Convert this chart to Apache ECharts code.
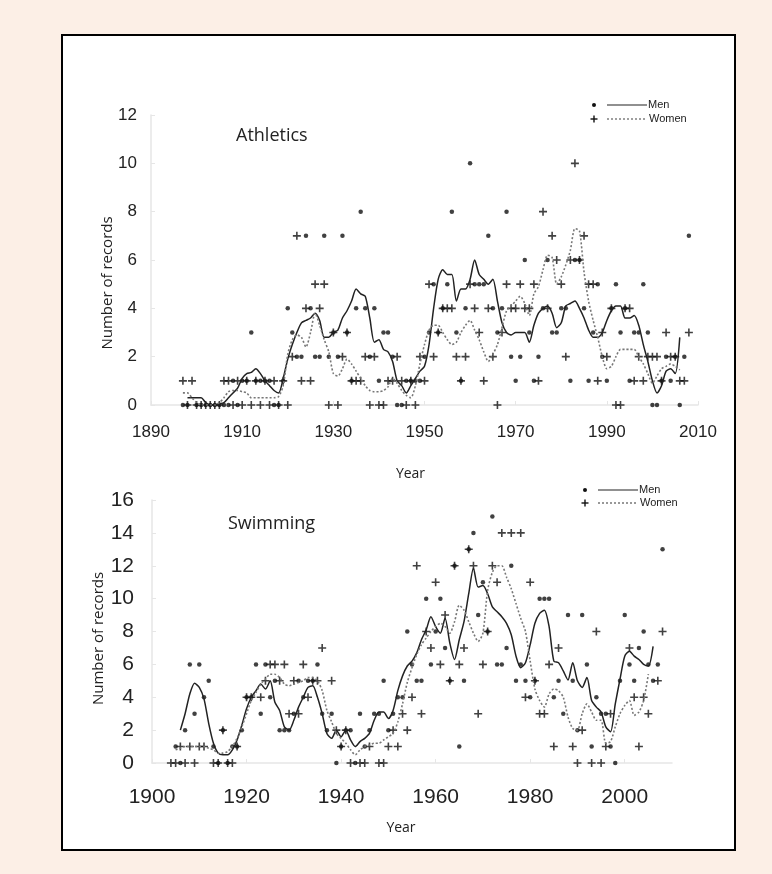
<!DOCTYPE html>
<html lang="en">
<head>
  <meta charset="UTF-8">
  <title>World records per year</title>
  <script src="https://cdn.jsdelivr.net/npm/echarts@6/dist/echarts.min.js"></script>
  <style>
    html, body { margin: 0; padding: 0; background: #fcefe6; }
    #box { position: absolute; left: 61px; top: 34px; width: 671px; height: 813px; background: #fff; border: 2px solid #000; }
    #chart { position: absolute; left: 0; top: 0; width: 772px; height: 874px; }
  </style>
</head>
<body>
  <div id="box"></div>
  <div id="chart"></div>
<script>
  // ---- Athletics: records per year (dots = men, plus = women) ----
  const athMen = [[1897,0],[1898,0],[1900,0],[1901,0],[1902,0],[1903,0],[1904,0],[1905,0],[1906,0],[1907,0],[1908,1],[1909,0],[1910,1],[1911,1],[1912,3],[1913,1],[1914,1],[1915,1],[1916,1],[1917,0],[1918,0],[1919,1],[1920,4],[1921,3],[1922,2],[1923,2],[1924,7],[1925,4],[1926,2],[1927,2],[1928,7],[1929,2],[1930,3],[1931,2],[1932,7],[1933,3],[1934,1],[1935,4],[1936,8],[1937,4],[1938,2],[1939,4],[1940,1],[1941,3],[1942,3],[1943,2],[1944,0],[1945,0],[1946,1],[1947,1],[1948,1],[1949,1],[1950,2],[1951,3],[1952,5],[1953,3],[1954,4],[1955,5],[1956,8],[1957,3],[1958,1],[1959,4],[1960,10],[1961,5],[1962,5],[1963,5],[1964,7],[1965,4],[1966,3],[1967,4],[1968,8],[1969,2],[1970,1],[1971,2],[1972,6],[1973,3],[1974,1],[1975,2],[1976,4],[1977,6],[1978,3],[1979,3],[1980,4],[1981,4],[1982,1],[1983,6],[1984,6],[1985,4],[1986,1],[1987,3],[1988,5],[1989,2],[1990,1],[1991,4],[1992,5],[1993,3],[1994,4],[1995,1],[1996,3],[1997,3],[1998,5],[1999,3],[2000,0],[2001,0],[2002,1],[2003,2],[2004,1],[2005,2],[2006,0],[2007,2],[2008,7]];
  const athWomen = [[1897,1],[1898,0],[1899,1],[1900,0],[1901,0],[1902,0],[1903,0],[1904,0],[1905,0],[1906,1],[1907,1],[1908,0],[1909,1],[1910,0],[1911,1],[1912,0],[1913,1],[1914,0],[1915,1],[1916,0],[1917,1],[1918,0],[1919,1],[1920,0],[1921,2],[1922,7],[1923,1],[1924,4],[1925,1],[1926,5],[1927,4],[1928,5],[1929,0],[1930,3],[1931,0],[1932,2],[1933,3],[1934,1],[1935,1],[1936,1],[1937,2],[1938,0],[1939,2],[1940,0],[1941,0],[1942,1],[1943,1],[1944,2],[1945,1],[1946,0],[1947,1],[1948,0],[1949,2],[1950,1],[1951,5],[1952,2],[1953,3],[1954,4],[1955,4],[1956,4],[1957,2],[1958,1],[1959,2],[1960,5],[1961,4],[1962,3],[1963,1],[1964,4],[1965,2],[1966,0],[1967,3],[1968,5],[1969,4],[1970,4],[1971,5],[1972,4],[1973,4],[1974,5],[1975,1],[1976,8],[1977,4],[1978,7],[1979,6],[1980,5],[1981,2],[1982,6],[1983,10],[1984,6],[1985,7],[1986,5],[1987,5],[1988,1],[1989,3],[1990,2],[1991,4],[1992,0],[1993,0],[1994,4],[1995,4],[1996,1],[1997,2],[1998,1],[1999,2],[2000,2],[2001,2],[2002,1],[2003,3],[2004,2],[2005,2],[2006,1],[2007,1],[2008,3]];
  // smoothed trends
  const athMenTrend = [[1898,0.3],[1899,0.3],[1900,0.3],[1901,0.3],[1902,0.1],[1903,0],[1904,0],[1905,0.05],[1906,0.1],[1907,0.3],[1908,0.5],[1909,0.7],[1910,1.1],[1911,1.3],[1912,1.35],[1913,1.5],[1914,1.3],[1915,1.0],[1916,0.8],[1917,0.6],[1918,0.5],[1919,1.1],[1920,1.9],[1921,2.5],[1922,3.0],[1923,3.4],[1924,3.5],[1925,3.6],[1926,3.8],[1927,3.5],[1928,2.8],[1929,2.8],[1930,3.0],[1931,3.1],[1932,3.6],[1933,3.9],[1934,4.3],[1935,4.8],[1936,4.6],[1937,4.5],[1938,3.6],[1939,2.6],[1940,2.7],[1941,2.3],[1942,2.2],[1943,1.8],[1944,1.0],[1945,0.8],[1946,0.5],[1947,0.8],[1948,1.1],[1949,1.4],[1950,1.6],[1951,2.5],[1952,4.0],[1953,5.2],[1954,5.6],[1955,5.4],[1956,5.4],[1957,4.3],[1958,4.8],[1959,4.8],[1960,5.2],[1961,6.0],[1962,5.4],[1963,5.2],[1964,5.0],[1965,5.2],[1966,4.3],[1967,3.4],[1968,3.0],[1969,2.9],[1970,3.0],[1971,3.0],[1972,3.0],[1973,2.6],[1974,3.3],[1975,3.8],[1976,4.0],[1977,4.1],[1978,3.8],[1979,3.2],[1980,3.4],[1981,4.1],[1982,4.2],[1983,4.3],[1984,4.0],[1985,3.6],[1986,3.1],[1987,2.8],[1988,2.8],[1989,3.0],[1990,3.5],[1991,3.9],[1992,4.1],[1993,4.1],[1994,3.6],[1995,3.6],[1996,3.7],[1997,3.3],[1998,2.5],[1999,1.8],[2000,1.0],[2001,0.5],[2002,0.8],[2003,1.4],[2004,1.5],[2005,1.3],[2006,2.8]];
  const athWomenTrend = [[1897,0.5],[1898,0.5],[1899,0.3],[1900,0.1],[1901,0],[1902,0],[1903,0],[1904,0],[1905,0.1],[1906,0.3],[1907,0.55],[1908,0.6],[1909,0.6],[1910,0.55],[1911,0.5],[1912,0.3],[1913,0.3],[1914,0.3],[1915,0.3],[1916,0.3],[1917,0.3],[1918,0.35],[1919,0.8],[1920,2.1],[1921,2.7],[1922,2.9],[1923,2.8],[1924,2.4],[1925,3.0],[1926,3.8],[1927,3.3],[1928,2.7],[1929,2.2],[1930,1.3],[1931,1.2],[1932,1.5],[1933,1.9],[1934,1.7],[1935,1.4],[1936,1.1],[1937,0.8],[1938,0.6],[1939,0.55],[1940,0.55],[1941,0.6],[1942,0.75],[1943,1.1],[1944,0.9],[1945,0.6],[1946,0.4],[1947,0.3],[1948,0.8],[1949,1.7],[1950,2.5],[1951,3.1],[1952,3.3],[1953,3.3],[1954,3.0],[1955,2.7],[1956,2.5],[1957,2.6],[1958,3.0],[1959,3.3],[1960,3.5],[1961,3.1],[1962,2.7],[1963,2.2],[1964,1.8],[1965,2.1],[1966,2.5],[1967,3.2],[1968,3.9],[1969,4.1],[1970,4.3],[1971,4.5],[1972,4.2],[1973,3.7],[1974,4.6],[1975,4.9],[1976,5.6],[1977,6.2],[1978,6.1],[1979,5.0],[1980,5.3],[1981,5.8],[1982,6.4],[1983,7.3],[1984,7.2],[1985,5.5],[1986,4.3],[1987,3.5],[1988,2.8],[1989,2.0],[1990,1.5],[1991,1.6],[1992,2.0],[1993,2.3],[1994,2.3],[1995,2.3],[1996,2.3],[1997,2.0],[1998,1.7],[1999,1.3],[2000,0.9],[2001,1.2],[2002,1.5],[2003,1.6],[2004,1.7],[2005,1.6],[2006,1.45]];

  // ---- Swimming ----
  const swimMen = [[1905,1],[1906,0],[1907,2],[1908,6],[1909,3],[1910,6],[1911,4],[1912,5],[1913,1],[1914,0],[1915,2],[1916,0],[1917,1],[1918,1],[1919,2],[1920,4],[1921,4],[1922,6],[1923,3],[1924,6],[1925,4],[1926,5],[1927,2],[1928,2],[1929,2],[1930,3],[1931,5],[1932,4],[1933,5],[1934,5],[1935,6],[1936,3],[1937,2],[1938,3],[1939,0],[1940,1],[1941,2],[1942,2],[1943,0],[1944,3],[1945,1],[1946,2],[1947,3],[1948,3],[1949,5],[1950,2],[1951,3],[1952,4],[1953,4],[1954,8],[1955,6],[1956,5],[1957,5],[1958,10],[1959,6],[1960,8],[1961,10],[1962,7],[1963,5],[1964,12],[1965,1],[1966,5],[1967,13],[1968,14],[1969,9],[1970,11],[1971,8],[1972,15],[1973,6],[1974,6],[1975,7],[1976,12],[1977,5],[1978,6],[1979,5],[1980,4],[1981,5],[1982,10],[1983,10],[1984,10],[1985,4],[1986,5],[1987,3],[1988,9],[1989,5],[1990,2],[1991,9],[1992,6],[1993,1],[1994,4],[1995,3],[1996,3],[1997,1],[1998,0],[1999,5],[2000,9],[2001,6],[2002,5],[2003,7],[2004,8],[2005,6],[2006,5],[2007,6],[2008,13]];
  const swimWomen = [[1904,0],[1905,0],[1906,1],[1907,0],[1908,1],[1909,0],[1910,1],[1911,1],[1913,0],[1914,0],[1915,2],[1916,0],[1917,0],[1918,1],[1920,4],[1921,4],[1923,4],[1924,5],[1925,6],[1926,6],[1927,5],[1928,6],[1929,3],[1930,5],[1931,3],[1932,6],[1933,4],[1934,5],[1935,5],[1936,7],[1938,5],[1939,2],[1940,1],[1941,2],[1942,0],[1944,0],[1945,0],[1946,1],[1948,0],[1949,0],[1950,1],[1951,2],[1952,1],[1953,3],[1954,2],[1955,4],[1956,12],[1957,3],[1958,8],[1959,7],[1960,11],[1961,6],[1962,9],[1963,5],[1964,12],[1965,6],[1966,7],[1967,13],[1968,12],[1969,3],[1970,6],[1971,8],[1972,12],[1973,11],[1974,14],[1976,14],[1978,14],[1979,4],[1980,11],[1981,5],[1982,3],[1983,3],[1984,6],[1985,1],[1986,7],[1989,1],[1990,0],[1991,2],[1993,0],[1994,8],[1995,0],[1996,1],[1997,3],[2001,7],[2002,4],[2003,1],[2004,4],[2005,3],[2007,5],[2008,8]];
  const swimMenTrend = [[1906,2.0],[1907,3.0],[1908,4.2],[1909,4.85],[1910,4.6],[1911,3.9],[1912,2.4],[1913,1.2],[1914,0.6],[1915,0.5],[1916,0.5],[1917,0.8],[1918,1.4],[1919,2.3],[1920,3.3],[1921,4.0],[1922,4.4],[1923,4.8],[1924,4.5],[1925,5.0],[1926,3.7],[1927,3.2],[1928,2.2],[1929,2.0],[1930,2.6],[1931,3.4],[1932,4.0],[1933,4.6],[1934,4.7],[1935,4.0],[1936,3.0],[1937,1.8],[1938,1.5],[1939,2.0],[1940,1.6],[1941,2.0],[1942,1.4],[1943,1.0],[1944,1.3],[1945,1.5],[1946,1.8],[1947,2.6],[1948,3.1],[1949,3.1],[1950,2.7],[1951,3.2],[1952,4.4],[1953,5.3],[1954,5.9],[1955,6.2],[1956,6.7],[1957,7.5],[1958,8.1],[1959,8.9],[1960,8.3],[1961,7.9],[1962,8.8],[1963,7.3],[1964,6.3],[1965,7.5],[1966,8.6],[1967,10.3],[1968,11.85],[1969,10.7],[1970,10.8],[1971,10.3],[1972,9.5],[1973,9.2],[1974,8.9],[1975,8.5],[1976,7.8],[1977,6.5],[1978,5.8],[1979,6.1],[1980,7.2],[1981,8.5],[1982,9.1],[1983,9.3],[1984,8.3],[1985,6.2],[1986,6.1],[1987,5.6],[1988,5.05],[1989,6.1],[1990,5.0],[1991,4.6],[1992,5.2],[1993,3.8],[1994,3.4],[1995,3.1],[1996,2.2],[1997,1.9],[1998,3.6],[1999,5.1],[2000,6.5],[2001,6.8],[2002,6.5],[2003,6.3],[2004,6.0],[2005,5.9],[2006,7.1]];
  const swimWomenTrend = [[1905,0.8],[1906,0.9],[1907,1.0],[1908,1.0],[1909,1.0],[1910,1.0],[1911,1.0],[1912,0.9],[1913,0.8],[1914,0.6],[1915,0.6],[1916,0.7],[1917,1.0],[1918,1.5],[1919,2.2],[1920,3.0],[1921,3.8],[1922,4.3],[1923,4.8],[1924,5.1],[1925,5.4],[1926,5.4],[1927,5.2],[1928,4.8],[1929,4.7],[1930,4.8],[1931,4.9],[1932,5.0],[1933,5.2],[1934,5.2],[1935,5.0],[1936,4.4],[1937,3.2],[1938,2.5],[1939,1.8],[1940,1.5],[1941,1.2],[1942,0.8],[1943,0.5],[1944,0.8],[1945,1.0],[1946,1.1],[1947,1.2],[1948,1.2],[1949,1.4],[1950,1.6],[1951,1.8],[1952,2.5],[1953,3.6],[1954,4.9],[1955,5.8],[1956,6.6],[1957,7.2],[1958,7.6],[1959,8.0],[1960,8.3],[1961,8.5],[1962,8.3],[1963,7.9],[1964,8.6],[1965,9.6],[1966,9.3],[1967,8.6],[1968,7.9],[1969,7.4],[1970,7.9],[1971,10.5],[1972,11.6],[1973,12.0],[1974,12.0],[1975,11.3],[1976,10.6],[1977,9.7],[1978,8.8],[1979,8.0],[1980,6.2],[1981,4.5],[1982,3.8],[1983,3.4],[1984,4.2],[1985,4.5],[1986,4.4],[1987,4.0],[1988,2.8],[1989,2.1],[1990,2.0],[1991,3.0],[1992,3.6],[1993,3.1],[1994,2.6],[1995,2.6],[1996,1.2],[1997,1.3],[1998,2.2],[1999,3.0],[2000,3.5],[2001,3.8],[2002,2.9],[2003,3.1],[2004,3.8],[2005,5.4]];

  const panelTitles = ['Athletics', 'Swimming'];
  const legendNames = ['Men', 'Women'];

  const PLUS = 'path://M4,0H6V4H10V6H6V10H4V6H0V4H4Z';
  const tickFont = 'Liberation Sans, Arial, sans-serif';
  const textFont = 'Open Sans, Lato, sans-serif';

  let myCharts = echarts.init(document.getElementById('chart'));

  function xAx(idx, min, max, size, margin, gap, showMax, shift) {
    return {
      type: 'value', gridIndex: idx, min: min, max: max, interval: 20,
      name: 'Year', nameLocation: 'middle', nameGap: gap, nameMoveOverlap: false,
      // padding on the right nudges the name a little to the left, as in the figure
      nameTextStyle: { fontFamily: textFont, fontSize: 14, color: '#222', padding: [0, shift, 0, 0] },
      axisLine: { lineStyle: { color: '#e6e6e6', width: 1.5 } },
      axisTick: { show: true, inside: true, length: 4, lineStyle: { color: '#e6e6e6' } },
      axisLabel: { fontFamily: tickFont, fontSize: size, color: '#222', margin: margin, showMaxLabel: showMax, formatter: v => String(v) },
      splitLine: { show: false }
    };
  }
  function yAx(idx, max, size, margin, gap, shift) {
    return {
      type: 'value', gridIndex: idx, min: 0, max: max, interval: 2,
      name: 'Number of records', nameLocation: 'middle', nameGap: gap, nameRotate: 90,
      nameMoveOverlap: false,
      nameTextStyle: { fontFamily: textFont, fontSize: 15, color: '#222', padding: [0, shift, 0, 0] },
      axisLine: { show: true, lineStyle: { color: '#e6e6e6', width: 1.5 } },
      axisTick: { show: true, inside: true, length: 4, lineStyle: { color: '#e6e6e6' } },
      axisLabel: { fontFamily: tickFont, fontSize: size, color: '#222', margin: margin },
      splitLine: { show: false }
    };
  }
  function pts(idx, data, isMen) {
    return {
      type: 'scatter', xAxisIndex: idx, yAxisIndex: idx, data: data,
      symbol: isMen ? 'circle' : PLUS, symbolSize: isMen ? 4.5 : 8,
      itemStyle: { color: '#111' }, silent: true, z: 3
    };
  }
  function trend(idx, data, isMen) {
    return {
      type: 'line', xAxisIndex: idx, yAxisIndex: idx, data: data,
      showSymbol: false, smooth: 0.25, silent: true, z: 4,
      lineStyle: isMen ? { color: '#222', width: 1.5 } : { color: '#777', width: 1.6, type: [2, 2] }
    };
  }
  function legendGraphic(x, y, gap) {
    // dot/plus + line sample + label, two rows
    return [
      { type: 'circle', shape: { cx: x, cy: y, r: 2 }, style: { fill: '#111' } },
      { type: 'line', shape: { x1: x + 13, y1: y, x2: x + 53, y2: y }, style: { stroke: '#222', lineWidth: 1.2 } },
      { type: 'text', x: x + 54, y: y, style: { text: legendNames[0], font: '11px Liberation Sans', fill: '#222', textVerticalAlign: 'middle' } },
      { type: 'rect', shape: { x: x - 3.5, y: y + gap - 0.7, width: 7, height: 1.4 }, style: { fill: '#111' } },
      { type: 'rect', shape: { x: x - 0.7, y: y + gap - 3.5, width: 1.4, height: 7 }, style: { fill: '#111' } },
      { type: 'line', shape: { x1: x + 13, y1: y + gap, x2: x + 53, y2: y + gap }, style: { stroke: '#777', lineWidth: 1.4, lineDash: [2, 2] } },
      { type: 'text', x: x + 55, y: y + gap, style: { text: legendNames[1], font: '11px Liberation Sans', fill: '#222', textVerticalAlign: 'middle' } }
    ];
  }

  let option = {
    animation: false,
    title: [
      { text: panelTitles[0], left: 236, top: 127, padding: 0, textStyle: { fontFamily: textFont, fontSize: 18, fontWeight: 'normal', color: '#222' } },
      { text: panelTitles[1], left: 228, top: 515, padding: 0, textStyle: { fontFamily: textFont, fontSize: 18, fontWeight: 'normal', color: '#222' } }
    ],
    grid: [
      { left: 151, top: 115, width: 547, height: 290 },
      { left: 152, top: 500, width: 520, height: 263 }
    ],
    xAxis: [xAx(0, 1890, 2010, 17, 19, 62, true, 28), xAx(1, 1900, 2010, 21, 24, 58, false, 22)],
    yAxis: [yAx(0, 12, 17, 14, 36, 46), yAx(1, 16, 21, 18, 46, 14)],
    series: [
      pts(0, athMen, true), pts(0, athWomen, false),
      trend(0, athMenTrend, true), trend(0, athWomenTrend, false),
      pts(1, swimMen, true), pts(1, swimWomen, false),
      trend(1, swimMenTrend, true), trend(1, swimWomenTrend, false)
    ],
    graphic: legendGraphic(594, 105, 14).concat(legendGraphic(585, 490, 13))
  };
  myCharts.setOption(option);
</script>
</body>
</html>
